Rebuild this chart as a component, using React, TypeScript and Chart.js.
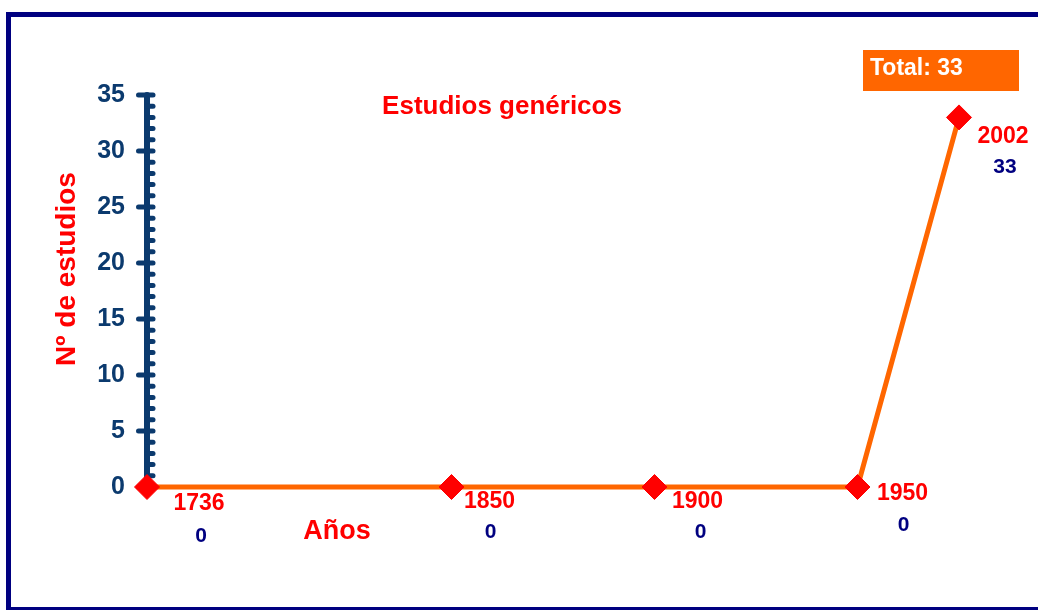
import React, { useEffect, useRef } from 'react';
import { Chart, registerables } from 'chart.js';

Chart.register(...registerables);

// ---- data ----
const categories: string[] = ['1736', '', '', '1850', '', '1900', '', '1950', '2002'];
const studies: (number | null)[] = [0, null, null, 0, null, 0, null, 0, 33];
const yMin = 0;
const yMax = 35;
const yMajorStep = 5;
const yMinorStep = 1;
const chartTitle = 'Estudios genéricos';
const xTitle = 'Años';
const yTitle = 'Nº de estudios';
const totalValue = studies.reduce((a: number, b) => a + (b ?? 0), 0);
const totalLabel = `Total: ${totalValue}`;

// ---- label nudges (px) relative to each point ----
const yearDx = [52, 0, 0, 38, 0, 43, 0, 45, 44];
const yearDy = [23, 0, 0, 21, 0, 21, 0, 13, 26];
const valueDx = [54, 0, 0, 39, 0, 46, 0, 46, 46];
const valueDy = [55, 0, 0, 51, 0, 51, 0, 44, 56];

const FONT = '"Liberation Sans", Arial, Helvetica, sans-serif';
const AXIS = '#0B3A6E';
const RED = '#FF0000';
const NAVY = '#000080';
const ORANGE = '#FF6600';

const decor = {
  id: 'decor',
  beforeDraw(chart: any) {
    const ctx = chart.ctx;
    ctx.save();
    ctx.strokeStyle = NAVY;
    ctx.lineWidth = 5;
    ctx.strokeRect(8.5, 14.5, 1100, 595);
    ctx.restore();
  },
  beforeDatasetsDraw(chart: any) {
    const { ctx, chartArea } = chart;
    const y = chart.scales.y;
    const x0 = chartArea.left;
    ctx.save();
    ctx.strokeStyle = AXIS;
    ctx.lineCap = 'round';
    ctx.lineWidth = 6;
    ctx.beginPath();
    ctx.moveTo(x0, y.getPixelForValue(yMax));
    ctx.lineTo(x0, y.getPixelForValue(yMin));
    ctx.stroke();
    ctx.lineWidth = 5;
    for (let v = yMin; v <= yMax; v += yMinorStep) {
      const py = y.getPixelForValue(v);
      const major = v % yMajorStep === 0;
      ctx.beginPath();
      ctx.moveTo(major ? x0 - 8.5 : x0, py);
      ctx.lineTo(x0 + 6, py);
      ctx.stroke();
    }
    ctx.restore();
  },
  afterDatasetsDraw(chart: any) {
    const { ctx } = chart;
    const meta = chart.getDatasetMeta(0);
    ctx.save();
    // point labels
    meta.data.forEach((pt: any, i: number) => {
      if (studies[i] === null) return;
      ctx.textAlign = 'center';
      ctx.textBaseline = 'alphabetic';
      ctx.fillStyle = RED;
      ctx.font = `bold 23px ${FONT}`;
      ctx.fillText(categories[i], pt.x + yearDx[i], pt.y + yearDy[i]);
      ctx.fillStyle = NAVY;
      ctx.font = `bold 21px ${FONT}`;
      ctx.fillText(String(studies[i]), pt.x + valueDx[i], pt.y + valueDy[i]);
    });
    // chart title
    ctx.fillStyle = RED;
    ctx.textAlign = 'center';
    ctx.font = `bold 26px ${FONT}`;
    ctx.fillText(chartTitle, 502, 114);
    // x title
    ctx.font = `bold 27px ${FONT}`;
    ctx.fillText(xTitle, 337, 539);
    // y title
    ctx.save();
    ctx.translate(75, 269);
    ctx.rotate(-Math.PI / 2);
    ctx.font = `bold 28px ${FONT}`;
    ctx.textAlign = 'center';
    ctx.fillText(yTitle, 0, 0);
    ctx.restore();
    // total box
    ctx.fillStyle = ORANGE;
    ctx.fillRect(863, 50, 156, 41);
    ctx.fillStyle = '#FFFFFF';
    ctx.textAlign = 'left';
    ctx.font = `bold 23px ${FONT}`;
    ctx.fillText(totalLabel, 870, 75);
    ctx.restore();
  },
};

export default function App() {
  const ref = useRef<HTMLCanvasElement>(null);
  useEffect(() => {
    if (!ref.current) return;
    const chart = new Chart(ref.current, {
      type: 'line',
      data: {
        labels: categories,
        datasets: [
          {
            data: studies,
            borderColor: ORANGE,
            borderWidth: 5,
            tension: 0,
            spanGaps: true,
            pointStyle: 'rectRot',
            pointRadius: 12.5,
            pointBackgroundColor: RED,
            pointBorderColor: RED,
            pointBorderWidth: 1,
            clip: false as any,
          },
        ],
      },
      options: {
        responsive: false,
        animation: false,
        layout: { padding: { left: 0, top: 95, right: 79, bottom: 123 } },
        plugins: {
          legend: { display: false },
          tooltip: { enabled: false },
          title: { display: false },
        },
        scales: {
          x: { type: 'category', display: false, offset: false },
          y: {
            min: yMin,
            max: yMax,
            grid: { display: false, drawTicks: false },
            border: { display: false },
            ticks: {
              stepSize: yMajorStep,
              color: AXIS,
              padding: 22,
              font: { family: FONT, size: 25, weight: 'bold' },
            },
            afterFit: (s: any) => {
              s.width = 147;
            },
          },
        },
      },
      plugins: [decor],
    });
    return () => chart.destroy();
  }, []);
  return (
    <div style={{ position: 'absolute', left: 0, top: 0, width: 1038, height: 610, background: '#fff' }}>
      <canvas ref={ref} width={1038} height={610} style={{ display: 'block' }} />
    </div>
  );
}
